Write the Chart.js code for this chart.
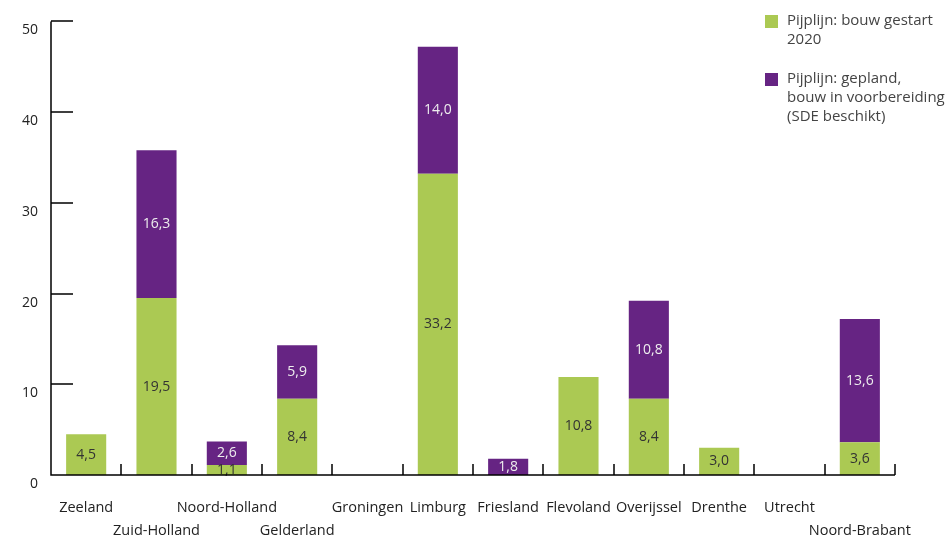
<!DOCTYPE html>
<html><head><meta charset="utf-8">
<script src="https://cdn.jsdelivr.net/npm/chart.js@4.4.0/dist/chart.umd.min.js"></script>
<style>
html,body{margin:0;padding:0;background:#fff;}
#wrap{position:relative;width:951px;height:535px;}
#legend{position:absolute;left:765px;top:10px;font-family:"Open Sans",sans-serif;font-size:15px;color:#444;line-height:19px;}
.item{position:relative;padding-left:22px;margin-bottom:20px;}
.sw{position:absolute;left:0;top:5px;width:13px;height:13px;}
</style></head>
<body><div id="wrap"><canvas id="c" width="951" height="535"></canvas>
<div id="legend"></div></div>
<script>
const categories = ['Zeeland','Zuid-Holland','Noord-Holland','Gelderland','Groningen','Limburg','Friesland','Flevoland','Overijssel','Drenthe','Utrecht','Noord-Brabant'];
const secondRow = ['Zuid-Holland','Gelderland','Noord-Brabant'];
const bouwGestart = [4.5, 19.5, 1.1, 8.4, 0, 33.2, 0, 10.8, 8.4, 3.0, 0, 3.6];
const gepland = [0, 16.3, 2.6, 5.9, 0, 14.0, 1.8, 0, 10.8, 0, 0, 13.6];
const yTicks = [0, 10, 20, 30, 40, 50];
const seriesNames = [['Pijplijn: bouw gestart','2020'], ['Pijplijn: gepland,','bouw in voorbereiding','(SDE beschikt)']];
const colors = ['#abc953', '#662483'];
const labelColors = ['#333333', '#eeeeee'];

const legend = document.getElementById('legend');
seriesNames.forEach((lines, i) => {
  const d = document.createElement('div'); d.className = 'item';
  d.innerHTML = '<span class="sw" style="background:' + colors[i] + '"></span>' + lines.join('<br>');
  legend.appendChild(d);
});

const FONT = '"Open Sans", sans-serif';
const labels = categories.map(c => secondRow.includes(c) ? ['', c] : c);

const customDraw = {
  id: 'customDraw',
  afterDatasetsDraw(chart) {
    const ctx = chart.ctx;
    ctx.save();
    ctx.font = '14px ' + FONT;
    ctx.textAlign = 'center';
    ctx.textBaseline = 'middle';
    chart.data.datasets.forEach((ds, di) => {
      const meta = chart.getDatasetMeta(di);
      meta.data.forEach((bar, i) => {
        const v = ds.data[i];
        if (!v) return;
        ctx.fillStyle = labelColors[di];
        ctx.fillText(v.toFixed(1).replace('.', ','), bar.x, (bar.y + bar.base) / 2);
      });
    });
    ctx.restore();
  },
  afterDraw(chart) {
    const ctx = chart.ctx;
    const x = chart.scales.x, y = chart.scales.y;
    ctx.save();
    ctx.strokeStyle = '#000';
    ctx.lineWidth = 1.5;
    const base = y.getPixelForValue(0);
    const left = x.left;
    ctx.beginPath();
    ctx.moveTo(left, y.getPixelForValue(50));
    ctx.lineTo(left, base);
    ctx.lineTo(x.right, base);
    yTicks.forEach(t => {
      const py = Math.round(y.getPixelForValue(t));
      ctx.moveTo(left, py); ctx.lineTo(left + 22, py);
    });
    const n = categories.length;
    for (let i = 1; i <= n; i++) {
      const px = (x.getPixelForValue(i - 1) + (i < n ? x.getPixelForValue(i) : 2 * x.getPixelForValue(i - 1) - x.getPixelForValue(i - 2))) / 2;
      ctx.moveTo(Math.round(px), base); ctx.lineTo(Math.round(px), base - 11);
    }
    ctx.stroke();
    ctx.restore();
  }
};

new Chart(document.getElementById('c'), {
  type: 'bar',
  data: {
    labels: labels,
    datasets: [
      { label: seriesNames[0].join(' '), data: bouwGestart, backgroundColor: colors[0] },
      { label: seriesNames[1].join(' '), data: gepland, backgroundColor: colors[1] }
    ]
  },
  plugins: [customDraw],
  options: {
    responsive: false,
    animation: false,
    layout: { padding: { top: 20, right: 56, left: 0, bottom: 0 } },
    plugins: { legend: { display: false }, tooltip: { enabled: false } },
    datasets: { bar: { categoryPercentage: 1, barPercentage: 0.57 } },
    scales: {
      x: {
        stacked: true,
        grid: { display: false, tickLength: 0 },
        border: { display: false },
        ticks: { autoSkip: false, maxRotation: 0, minRotation: 0, color: '#222', font: { family: FONT, size: 14.5, lineHeight: 1.55 }, padding: 22 },
        afterFit(s) { s.height = 60; }
      },
      y: {
        stacked: true,
        min: 0, max: 50,
        afterBuildTicks(s) { s.ticks = yTicks.map(v => ({ value: v })); },
        grid: { display: false, tickLength: 0 },
        border: { display: false },
        ticks: { color: '#222', font: { family: FONT, size: 14 }, padding: 13, labelOffset: 9 },
        afterFit(s) { s.width = 51; }
      }
    }
  }
});
</script></body></html>
